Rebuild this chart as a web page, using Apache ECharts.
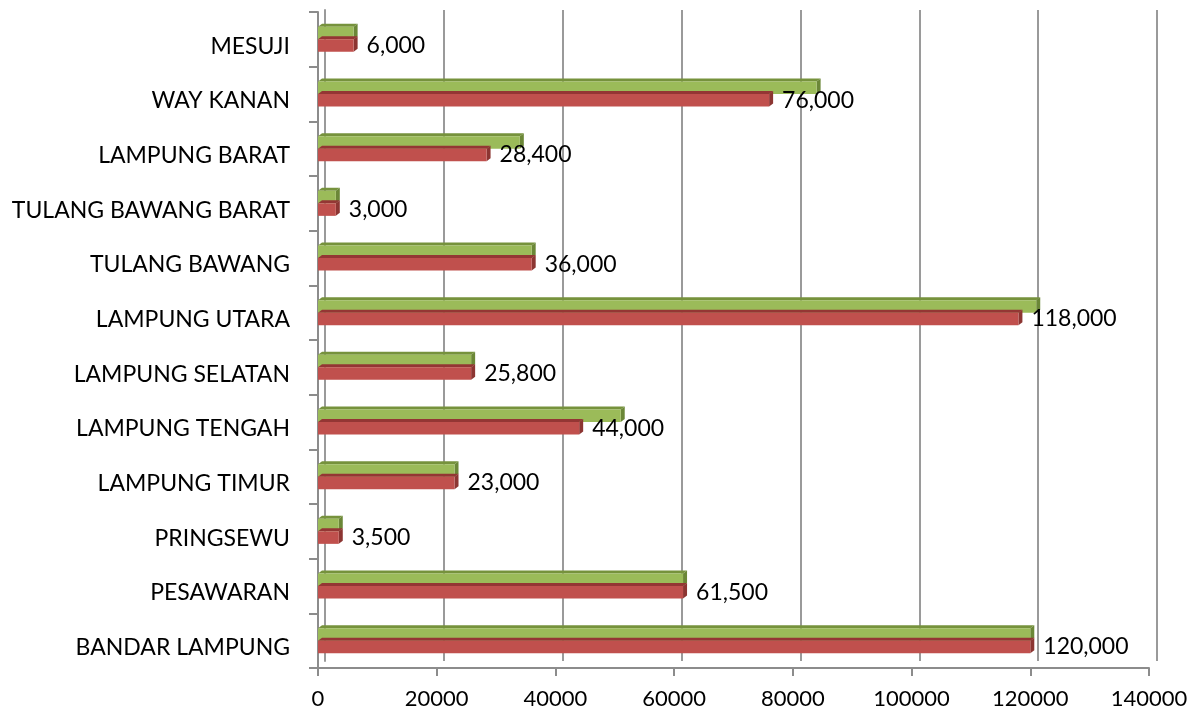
<!DOCTYPE html>
<html>
<head>
<meta charset="utf-8">
<script src="https://cdn.jsdelivr.net/npm/echarts@6/dist/echarts.min.js"></script>
<style>
  html, body { margin: 0; padding: 0; background: #ffffff; }
  #chart { width: 1200px; height: 720px; }
</style>
</head>
<body>
<div id="chart"></div>
<script>
// ---- Data (bottom to top, as on the axis) ----
const categories = ['BANDAR LAMPUNG', 'PESAWARAN', 'PRINGSEWU', 'LAMPUNG TIMUR', 'LAMPUNG TENGAH',
  'LAMPUNG SELATAN', 'LAMPUNG UTARA', 'TULANG BAWANG', 'TULANG BAWANG BARAT', 'LAMPUNG BARAT',
  'WAY KANAN', 'MESUJI'];
const greenValues = [120000, 61500, 3500, 23000, 51000, 25800, 121000, 36000, 3000, 34000, 84000, 6000];
const redValues = [120000, 61500, 3500, 23000, 44000, 25800, 118000, 36000, 3000, 28400, 76000, 6000];
const xTicks = [0, 20000, 40000, 60000, 80000, 100000, 120000, 140000];

const FONT = 'Lato';
const DX = 4, DY = 3;

const COLORS = {
  green: { front: '#9BBB59', top: '#76923C', side: '#6B8737' },
  red: { front: '#C0504D', top: '#943634', side: '#8C3532' }
};

function fmt(v) { return v.toLocaleString('en-US'); }

function makeRender(kind) {
  return function (params, api) {
    const val = api.value(0);
    const cat = api.value(1);
    const p0 = api.coord([0, cat]);
    const p1 = api.coord([val, cat]);
    const band = api.size([0, 1])[1];
    const h = band * 0.229;
    const x0 = p0[0], x1 = p1[0];
    const y0 = kind === 'green' ? p0[1] - h : p0[1];
    const c = COLORS[kind];
    const children = [
      { type: 'polygon', shape: { points: [[x0, y0], [x0 + DX, y0 - DY], [x1 + DX, y0 - DY], [x1, y0]] },
        style: { fill: c.top } },
      { type: 'polygon', shape: { points: [[x1, y0], [x1 + DX, y0 - DY], [x1 + DX, y0 + h - DY], [x1, y0 + h]] },
        style: { fill: c.side } },
      { type: 'rect', shape: { x: x0, y: y0, width: x1 - x0, height: h },
        style: { fill: c.front } }
    ];
    if (kind === 'red') {
      children.push({
        type: 'text',
        style: {
          text: fmt(val), x: x1 + 13, y: y0 + h / 2,
          verticalAlign: 'middle', align: 'left',
          font: '23px "' + FONT + '"', fill: '#000000'
        }
      });
    }
    return { type: 'group', children: children };
  };
}

const chart = echarts.init(document.getElementById('chart'), null, { renderer: 'canvas' });

const option = {
  backgroundColor: '#ffffff',
  animation: false,
  grid: [
    { left: 318, right: 51, top: 12, bottom: 52 },
    { left: 325, right: 43, top: 10, bottom: 59 }
  ],
  xAxis: [
    {
      gridIndex: 0, type: 'value', min: 0, max: 140000, interval: 20000,
      axisLine: { show: true, lineStyle: { color: '#8c8c8c', width: 2 } },
      axisTick: { show: true, length: 8, lineStyle: { color: '#8c8c8c', width: 2 } },
      splitLine: { show: false },
      axisLabel: { margin: 20, color: '#000000', fontSize: 22, fontFamily: FONT,
        formatter: function (v) { return xTicks.indexOf(v) >= 0 ? String(v) : ''; } }
    },
    {
      gridIndex: 1, type: 'value', min: 0, max: 140000, interval: 20000,
      axisLine: { show: false }, axisTick: { show: false }, axisLabel: { show: false },
      splitLine: { show: true, lineStyle: { color: '#9a9a9a', width: 2 } }
    }
  ],
  yAxis: [
    {
      gridIndex: 0, type: 'category', data: categories,
      axisLine: { show: true, lineStyle: { color: '#8c8c8c', width: 2 } },
      axisTick: { show: true, length: 9, lineStyle: { color: '#8c8c8c', width: 2 } },
      axisLabel: {
        margin: 28, color: '#000000', fontSize: 23, fontFamily: FONT,
        formatter: function (v) { return '{a|' + v + '}'; },
        rich: { a: { fontSize: 23, fontFamily: FONT, color: '#000000', padding: [14, 0, 0, 0] } }
      }
    },
    {
      gridIndex: 1, type: 'category', data: categories,
      axisLine: { show: true, lineStyle: { color: '#9a9a9a', width: 2 } },
      axisTick: { show: false }, axisLabel: { show: false }, splitLine: { show: false }
    }
  ],
  series: [
    {
      type: 'custom', xAxisIndex: 0, yAxisIndex: 0, z: 5,
      renderItem: makeRender('green'),
      encode: { x: 0, y: 1 },
      data: greenValues.map(function (v, i) { return [v, i]; })
    },
    {
      type: 'custom', xAxisIndex: 0, yAxisIndex: 0, z: 6,
      renderItem: makeRender('red'),
      encode: { x: 0, y: 1 },
      data: redValues.map(function (v, i) { return [v, i]; })
    }
  ]
};
chart.setOption(option);
</script>
</body>
</html>
